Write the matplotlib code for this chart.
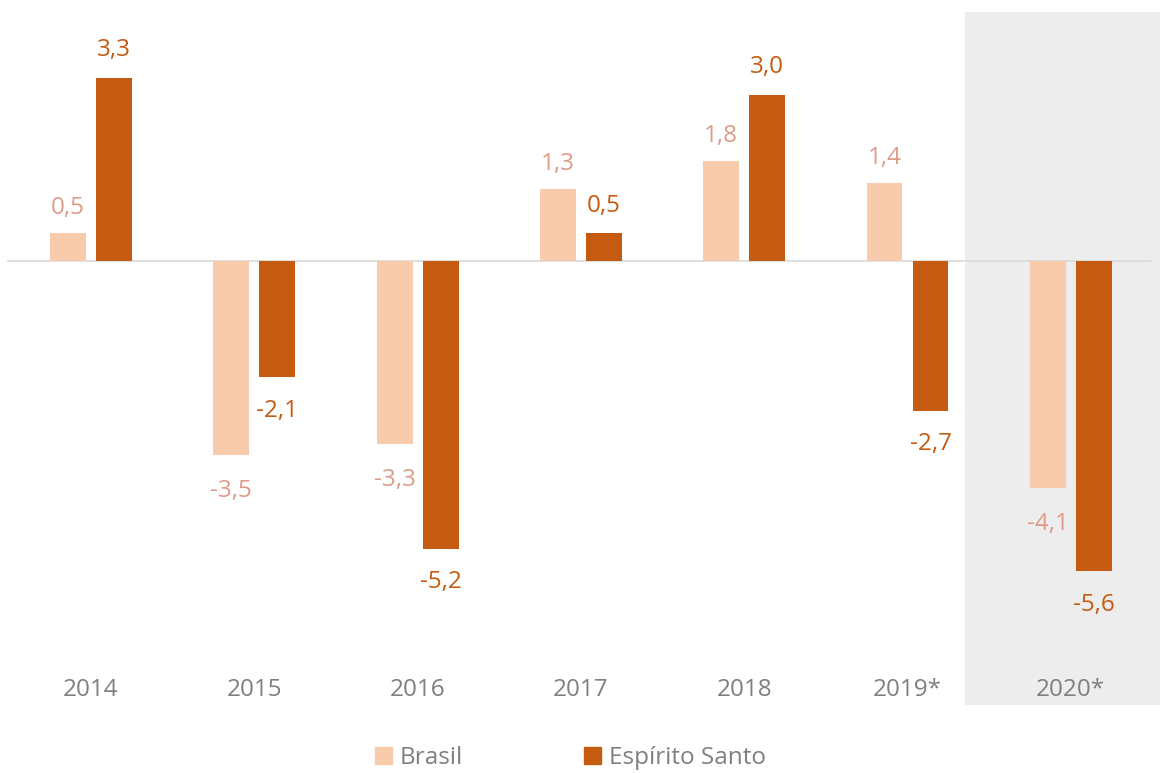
import matplotlib
matplotlib.use("Agg")
import matplotlib.pyplot as plt
import numpy as np
from matplotlib.patches import Patch

# data
years = ["2014", "2015", "2016", "2017", "2018", "2019*", "2020*"]
brasil = [0.5, -3.5, -3.3, 1.3, 1.8, 1.4, -4.1]
espirito_santo = [3.3, -2.1, -5.2, 0.5, 3.0, -2.7, -5.6]

C_BR = "#F8CBAD"
C_ES = "#C55A11"
C_BR_TXT = "#DE9C88"
C_TICK = "#7F7F7F"
FS = 17.5

plt.rcParams["font.family"] = ["Open Sans", "DejaVu Sans"]

fig = plt.figure(figsize=(11.64, 7.73), dpi=100)
ax = fig.add_axes([0, 0, 1, 1])

# pixel mapping: x px = 91 + 163.3*i ; y px = 261 - 55.4*v
ax.set_xlim((0 - 91) / 163.3, (1164 - 91) / 163.3)
ax.set_ylim((261 - 773) / 55.4, 261 / 55.4)
ax.axis("off")

x = np.arange(len(years))
w = 0.22
off = 0.141

# shaded forecast region
ax.fill_between([(965 - 91) / 163.3, (1160 - 91) / 163.3],
                (261 - 705) / 55.4, (261 - 12) / 55.4,
                color="#EDEDED", zorder=0, linewidth=0)

ax.plot([(8 - 91) / 163.3, (1151 - 91) / 163.3], [0, 0],
        color="#D9D9D9", linewidth=1.2, zorder=1)

ax.bar(x - off, brasil, w, color=C_BR, zorder=2)
ax.bar(x + off, espirito_santo, w, color=C_ES, zorder=2)

def fmt(v):
    return f"{v:.1f}".replace(".", ",")

for xi, v in zip(x - off, brasil):
    ax.annotate(fmt(v), (xi, v), xytext=(0, 18 if v > 0 else -26),
                textcoords="offset points", ha="center", va="center",
                fontsize=FS, color=C_BR_TXT)
for xi, v in zip(x + off, espirito_santo):
    ax.annotate(fmt(v), (xi, v), xytext=(0, 20 if v > 0 else -24),
                textcoords="offset points", ha="center", va="center",
                fontsize=FS, color=C_ES)

for xi, lab in zip(x, years):
    ax.text(xi, (261 - 690) / 55.4, lab, ha="center", va="center",
            fontsize=FS, color=C_TICK)

handles = [Patch(color=C_BR, label="Brasil"), Patch(color=C_ES, label="Espírito Santo")]
leg = fig.legend(handles=handles, loc="center", bbox_to_anchor=(0.490, 0.019),
                 ncol=2, frameon=False, fontsize=FS, handlelength=0.7,
                 handleheight=0.7, handletextpad=0.3, columnspacing=5.0)
for t in leg.get_texts():
    t.set_color(C_TICK)

fig.savefig("out.png", dpi=100)
